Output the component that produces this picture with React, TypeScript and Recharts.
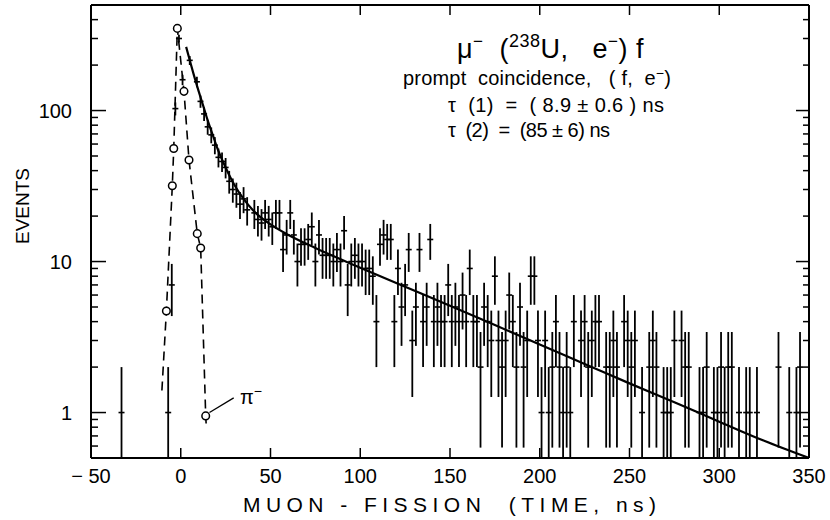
import { ComposedChart, XAxis, YAxis, Scatter, Line, ErrorBar, ReferenceLine } from 'recharts'

const FONT = '"Liberation Sans", Arial, sans-serif'

const X_TICKS = [-50, 0, 50, 100, 150, 200, 250, 300, 350]
const Y_TICKS = [0.6, 0.7, 0.8, 0.9, 1, 2, 3, 4, 5, 6, 7, 8, 9, 10, 20, 30, 40, 50, 60, 70, 80, 90, 100, 200, 300, 400]
const Y_LABELS = [1, 10, 100]

// muon-fission coincidences per 2 ns bin: [time ns, events]
const MUON: [number, number][] = [
  [-33, 1], [-7, 1], [-5, 7], [-3, 103], [-1, 300], [1, 160], [5, 215], [9, 155], [11, 115], [13, 95],
  [15, 78], [17, 69], [19, 59], [21, 49], [23, 46], [25, 42], [27, 34], [29, 30], [31, 28], [33, 24],
  [35, 26], [37, 22], [41, 21], [43, 19], [45, 18], [47, 21], [49, 19], [51, 17], [53, 21], [55, 21],
  [57, 12], [59, 15], [61, 21], [63, 15], [65, 10], [67, 13], [69, 13], [71, 14], [73, 17], [75, 10],
  [77, 15], [79, 11], [81, 11], [83, 11], [85, 10], [87, 12], [89, 10], [91, 16], [93, 7], [95, 10],
  [97, 11], [99, 10], [101, 10], [103, 9], [105, 9], [107, 8], [109, 4], [111, 13], [113, 15], [115, 14],
  [117, 14], [119, 4], [121, 9], [123, 5], [125, 7], [127, 12], [129, 3], [131, 5], [133, 12], [135, 4],
  [137, 5], [139, 14], [141, 4], [143, 5], [145, 4], [147, 4], [149, 7], [151, 4], [153, 5], [155, 4],
  [157, 6], [159, 4], [161, 9], [163, 4], [165, 4], [167, 2], [169, 5], [171, 4], [173, 3], [175, 8],
  [177, 3], [179, 2], [181, 3], [183, 6], [185, 4], [187, 2], [189, 5], [191, 2], [193, 3], [195, 8],
  [197, 8], [199, 3], [201, 1], [203, 3], [205, 1], [207, 2], [209, 4], [211, 2], [213, 1], [215, 2],
  [217, 1], [219, 4], [223, 3], [225, 4], [227, 2], [229, 3], [231, 4], [233, 4], [237, 2], [239, 2],
  [241, 3], [243, 2], [247, 4], [249, 3], [251, 2], [253, 3], [257, 1], [261, 2], [263, 3], [265, 2],
  [269, 1], [271, 1], [273, 1], [275, 3], [279, 3], [281, 2], [283, 2], [289, 1], [291, 1], [293, 2],
  [297, 1], [299, 1], [301, 2], [303, 1], [305, 2], [307, 2], [311, 1], [315, 1], [317, 1], [321, 1],
  [333, 2], [339, 1], [343, 1], [345, 2],
]

// two-component decay fit
const FIT: [number, number][] = [
  [3, 264], [5, 216], [7, 177], [10, 134], [13, 103], [15, 86], [18, 68], [20, 58], [25, 42], [30, 32],
  [35, 26], [40, 22], [50, 17.6], [60, 15], [75, 12.3], [100, 9.1], [125, 6.8], [150, 5.1], [175, 3.8],
  [200, 2.82], [225, 2.1], [250, 1.56], [275, 1.17], [300, 0.87], [325, 0.65], [350, 0.5],
]

// prompt pi- stops (open circles) and the dashed guide through them
const PION: [number, number][] = [
  [-8, 4.7], [-4.7, 31.8], [-3.9, 56], [-1.9, 350], [1.8, 134], [4.6, 47], [9.2, 15.3], [11.1, 12.3], [13.9, 0.95],
]
const PION_START: [number, number] = [-10.5, 1.4]
const PION_END: [number, number] = [14.3, 0.78]

const muonData = MUON.map(([t, v]) => ({ t, v, err: [Math.min(Math.sqrt(v), v - 0.5), Math.sqrt(v)] }))
const fitData = FIT.map(([t, v]) => ({ t, v }))
const pionDots = PION.map(([t, v]) => ({ t, v }))
const pionLine = [PION_START, ...PION, PION_END].map(([t, v]) => ({ t, v }))

const fmtX = (v: number) => (v < 0 ? `\u2212 ${-v}` : `${v}`)

const XTickBottom = ({ x, y, payload }: any) => (
  <g>
    <line x1={x} x2={x} y1={y} y2={y - 10} stroke="#000" strokeWidth={1.5} />
    <text x={x} y={y + 25} textAnchor="middle" fontSize={20} fontFamily={FONT} fill="#000">
      {fmtX(payload.value)}
    </text>
  </g>
)

const XTickTop = ({ x, y }: any) => (
  <line x1={x} x2={x} y1={y} y2={y + 10} stroke="#000" strokeWidth={1.5} />
)

const YTickLeft = ({ x, y, payload }: any) => {
  const major = Y_LABELS.includes(payload.value)
  return (
    <g>
      <line x1={x} x2={x + (major ? 15 : 7)} y1={y} y2={y} stroke="#000" strokeWidth={1.5} />
      {major && (
        <text x={x - 19} y={y + 7} textAnchor="end" fontSize={20} fontFamily={FONT} fill="#000">
          {payload.value}
        </text>
      )}
    </g>
  )
}

const YTickRight = ({ x, y, payload }: any) => {
  const major = Y_LABELS.includes(payload.value)
  return <line x1={x} x2={x - (major ? 13 : 6)} y1={y} y2={y} stroke="#000" strokeWidth={1.5} />
}

const Dash = ({ cx, cy }: any) => (
  <line x1={cx - 3} x2={cx + 3} y1={cy} y2={cy} stroke="#000" strokeWidth={1.6} />
)

const OpenCircle = ({ cx, cy }: any) => (
  <circle cx={cx} cy={cy} r={3.8} fill="#fff" stroke="#000" strokeWidth={1.5} />
)

export default function App() {
  const axisLine = { stroke: '#000', strokeWidth: 2 }
  return (
    <div style={{ position: 'fixed', left: 0, top: 0, width: 830, height: 520, background: '#fff' }}>
      <ComposedChart width={830} height={520} margin={{ top: 4, right: 20, bottom: 22, left: 10 }}>
        <XAxis xAxisId="b" dataKey="t" type="number" domain={[-50, 350]} ticks={X_TICKS} interval={0}
          allowDataOverflow axisLine={axisLine} tickLine={false} tickSize={0} tickMargin={0} height={40} tick={<XTickBottom />} />
        <XAxis xAxisId="top" orientation="top" dataKey="t" type="number" domain={[-50, 350]} ticks={X_TICKS} interval={0}
          allowDataOverflow axisLine={axisLine} tickLine={false} tickSize={0} tickMargin={0} height={1} tick={<XTickTop />} />
        <YAxis yAxisId="l" dataKey="v" type="number" scale="log" domain={[0.5, 500]} ticks={Y_TICKS} interval={0}
          allowDataOverflow axisLine={axisLine} tickLine={false} tickSize={0} tickMargin={0} width={81} tick={<YTickLeft />} />
        <YAxis yAxisId="r" orientation="right" dataKey="v" type="number" scale="log" domain={[0.5, 500]} ticks={Y_TICKS} interval={0}
          allowDataOverflow axisLine={axisLine} tickLine={false} tickSize={0} tickMargin={0} width={1} tick={<YTickRight />} />

        <Line xAxisId="b" yAxisId="l" data={pionLine} dataKey="v" type="linear" stroke="#000" strokeWidth={1.6}
          strokeDasharray="9 6" dot={false} isAnimationActive={false} />
        <Line xAxisId="b" yAxisId="l" data={fitData} dataKey="v" type="monotone" stroke="#000" strokeWidth={2.2}
          dot={false} isAnimationActive={false} />
        <Scatter xAxisId="b" yAxisId="l" data={muonData} dataKey="v" shape={<Dash />} isAnimationActive={false}>
          <ErrorBar dataKey="err" direction="y" width={0} stroke="#000" strokeWidth={1.8} />
        </Scatter>
        <Scatter xAxisId="b" yAxisId="l" data={pionDots} dataKey="v" shape={<OpenCircle />} isAnimationActive={false} />
        <ReferenceLine xAxisId="b" yAxisId="l" segment={[{ x: 16, y: 1.0 }, { x: 29.5, y: 1.25 }]} stroke="#000" strokeWidth={1.3} />
      </ComposedChart>

      <svg width={830} height={520} style={{ position: 'absolute', left: 0, top: 0, pointerEvents: 'none' }}
        fontFamily={FONT} fill="#000">
        <text x={240} y={404} fontSize={20} style={{ whiteSpace: 'pre' }}>
          π<tspan dy={-8} fontSize={14}>−</tspan>
        </text>
        <text x={457} y={58} fontSize={27} letterSpacing={0.5} style={{ whiteSpace: 'pre' }}>
          μ<tspan dy={-11} fontSize={17}>−</tspan><tspan dy={11}>  (</tspan>
          <tspan dy={-11} fontSize={18}>238</tspan><tspan dy={11}>U,   e</tspan>
          <tspan dy={-11} fontSize={17}>−</tspan><tspan dy={11}>) f</tspan>
        </text>
        <text x={403} y={85} fontSize={20} letterSpacing={0.2} style={{ whiteSpace: 'pre' }}>
          prompt  coincidence,   ( f,  e<tspan dy={-7} fontSize={14}>−</tspan><tspan dy={7}>)</tspan>
        </text>
        <text x={448} y={112} fontSize={20} textLength={216} lengthAdjust="spacing" style={{ whiteSpace: 'pre' }}>
          τ  (1)  =  ( 8.9 ± 0.6 ) ns
        </text>
        <text x={448} y={137} fontSize={20} textLength={162} lengthAdjust="spacing" style={{ whiteSpace: 'pre' }}>
          τ  (2)  =  (85 ± 6) ns
        </text>
        <text x={0} y={0} fontSize={19} textAnchor="middle" transform="translate(29,206) rotate(-90)">
          EVENTS
        </text>
        <text x={243} y={512} fontSize={21} textLength={413} lengthAdjust="spacing" style={{ whiteSpace: 'pre' }}>
          MUON - FISSION  (TIME, ns)
        </text>
      </svg>
    </div>
  )
}
